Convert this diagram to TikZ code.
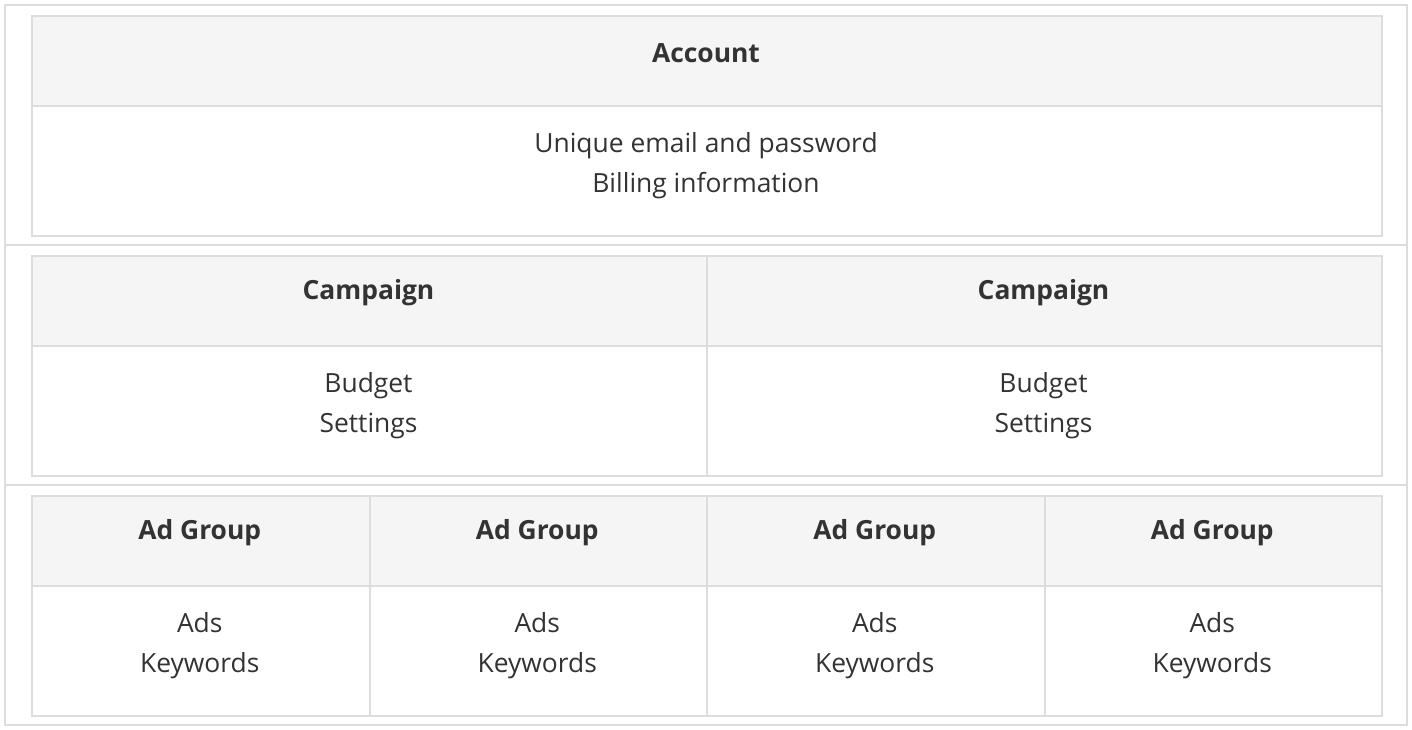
\documentclass[tikz,border=0pt]{standalone}
\usepackage{fontspec}
\setmainfont{Open Sans}
\definecolor{linec}{HTML}{DDDDDD}
\definecolor{headc}{HTML}{F5F5F5}
\definecolor{txtc}{HTML}{333333}
\tikzset{
  cellbox/.style={draw=linec, line width=2pt, inner sep=0pt, anchor=north west},
  headcell/.style={cellbox, fill=headc},
  bodycell/.style={cellbox, fill=white},
  headtxt/.style={font=\fontsize{26.4}{40}\selectfont\bfseries, text=txtc, inner sep=0pt},
  bodytxt/.style={font=\fontsize{26.4}{40}\selectfont, text=txtc, inner sep=0pt, align=center},
}
\begin{document}
\begin{tikzpicture}[x=1pt,y=-1pt]
\useasboundingbox (0,0) rectangle (1412,730);
\draw[draw=linec, line width=2pt] (5,5) rectangle (1407,725);
\draw[draw=linec, line width=2pt] (5,245) -- (1407,245);
\draw[draw=linec, line width=2pt] (5,485) -- (1407,485);
% row 1
\node[headcell, minimum width=1350pt, minimum height=90pt] (h1) at (31,15) {};
\node[bodycell, minimum width=1350pt, minimum height=130pt] (b1) at (31,105) {};
\node[headtxt] (t1) at (706,53) {Account};
\node[bodytxt] (u1) at (706,166) {Unique email and password\\Billing information};
% row 2
\foreach \i/\x in {1/31,2/706}{
  \node[headcell, minimum width=675pt, minimum height=90pt] (ch\i) at (\x,255) {};
  \node[bodycell, minimum width=675pt, minimum height=130pt] (cb\i) at (\x,345) {};
  \node[headtxt] (ct\i) at (\x+337.5,293) {Campaign};
  \node[bodytxt] (cu\i) at (\x+337.5,406) {Budget\\Settings};
}
% row 3
\foreach \i/\x in {1/31,2/368.5,3/706,4/1043.5}{
  \node[headcell, minimum width=337.5pt, minimum height=90pt] (ah\i) at (\x,495) {};
  \node[bodycell, minimum width=337.5pt, minimum height=130pt] (ab\i) at (\x,585) {};
  \node[headtxt] (at\i) at (\x+168.75,533) {Ad Group};
  \node[bodytxt] (au\i) at (\x+168.75,646) {Ads\\Keywords};
}
\end{tikzpicture}
\end{document}
